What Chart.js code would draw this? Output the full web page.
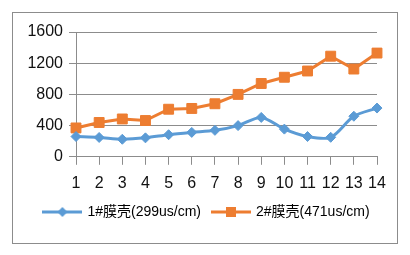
<!DOCTYPE html>
<html>
<head>
<meta charset="utf-8">
<script src="https://cdn.jsdelivr.net/npm/chart.js@4/dist/chart.umd.min.js"></script>
<style>
  html, body { margin:0; padding:0; background:#fff; }
  #box { position:absolute; left:12px; top:12px; width:384px; height:230px; border:1px solid #8c8c8c; }
</style>
</head>
<body>
<div id="box"><canvas id="myChart" width="384" height="230"></canvas></div>
<script>
// category labels (sample number)
const labels = ["1","2","3","4","5","6","7","8","9","10","11","12","13","14"];
// series values
const shell1 = [260,248,225,243,283,313,339,400,505,355,260,250,520,625];
const shell2 = [370,440,485,465,610,620,680,800,940,1020,1100,1290,1125,1330];
const seriesNames = ["1#膜壳(299us/cm)","2#膜壳(471us/cm)"];
const yTicks = [0,400,800,1200,1600];

const blue = "#5B9BD5";
const orange = "#ED7D31";
const fontFam = "'Liberation Sans', 'Noto Sans CJK SC', sans-serif";

// legend symbol: short line with the marker in the middle
function legendIcon(color, shape){
  const c = document.createElement("canvas");
  c.width = 40; c.height = 12;
  const g = c.getContext("2d");
  g.strokeStyle = color; g.lineWidth = 3;
  g.beginPath(); g.moveTo(0,6); g.lineTo(40,6); g.stroke();
  g.fillStyle = color;
  if(shape === "diamond"){
    g.beginPath(); g.moveTo(20,1); g.lineTo(25,6); g.lineTo(20,11); g.lineTo(15,6); g.closePath(); g.fill();
  } else {
    g.fillRect(15,1,10,10);
  }
  return c;
}
const icons = [legendIcon(blue,"diamond"), legendIcon(orange,"square")];

// nudge the legend box to where it sits in the picture
const legendShift = {
  id: "legendShift",
  afterLayout: function(ch){
    const lg = ch.legend;
    if(!lg) return;
    lg.left += 12; lg.right += 12;
    lg.top -= 9; lg.bottom -= 9;
  }
};

let ctx = document.getElementById("myChart").getContext("2d");
let chart = new Chart(ctx, {
  type: "line",
  data: {
    labels: labels,
    datasets: [{
      label: seriesNames[0],
      data: shell1,
      borderColor: blue,
      backgroundColor: blue,
      borderWidth: 3,
      pointStyle: "rectRot",
      pointRadius: 5,
      pointBorderWidth: 1,
      tension: 0.3
    },{
      label: seriesNames[1],
      data: shell2,
      borderColor: orange,
      backgroundColor: orange,
      borderWidth: 3,
      pointStyle: "rect",
      pointRadius: 7,
      pointBorderWidth: 1,
      tension: 0
    }]
  },
  plugins: [legendShift],
  options: {
    responsive: false,
    animation: false,
    layout: { padding: { left: 0, right: 20, top: 19, bottom: 5 } },
    plugins: {
      tooltip: { enabled: false },
      legend: {
        display: true,
        position: "bottom",
        labels: {
          usePointStyle: true,
          pointStyleWidth: 36,
          padding: 12,
          color: "#222",
          font: { family: fontFam, size: 14 },
          generateLabels: function(ch){
            return ch.data.datasets.map((d,i) => ({
              text: d.label,
              pointStyle: icons[i],
              fillStyle: d.borderColor,
              strokeStyle: d.borderColor,
              lineWidth: 0,
              datasetIndex: i
            }));
          }
        }
      }
    },
    scales: {
      x: {
        offset: false,
        grid: { drawOnChartArea: false, drawTicks: true, tickLength: 8, color: "#8c8c8c" },
        border: { color: "#8c8c8c", width: 1 },
        ticks: { color: "#111", padding: 9, font: { family: fontFam, size: 16 }, maxRotation: 0, autoSkip: false }
      },
      y: {
        min: 0, max: 1600,
        afterBuildTicks: function(ax){ ax.ticks = yTicks.map(v => ({ value: v })); },
        afterFit: function(ax){ ax.width = 63; },
        grid: { color: "#8c8c8c", tickLength: 7 },
        border: { color: "#8c8c8c", width: 1 },
        ticks: { color: "#111", padding: 6, font: { family: fontFam, size: 16 },
          callback: function(v){ return String(v); } }
      }
    }
  }
});
</script>
</body>
</html>
